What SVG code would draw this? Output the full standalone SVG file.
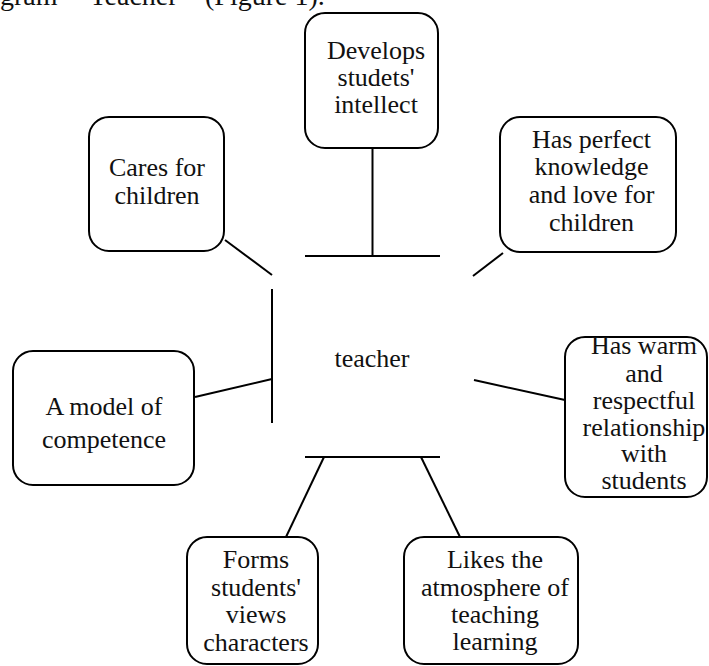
<svg xmlns="http://www.w3.org/2000/svg" width="709" height="666" viewBox="0 0 709 666">
<style>
text{font-family:'Liberation Serif','DejaVu Serif',serif;font-size:26px;fill:#111;text-anchor:middle}
.box{fill:#fff;stroke:#000;stroke-width:2}
.ln{stroke:#000;stroke-width:2;fill:none}
.cap{text-anchor:start;font-size:28px}
</style>
<rect width="709" height="666" fill="#fff"/>
<g font-family="Liberation Serif, serif">
<text class="cap" y="5"><tspan x="0">gram</tspan><tspan x="77">“Teacher”</tspan><tspan x="205">(Figure 1).</tspan></text>
</g>
<g id="connectors">
<line class="ln" x1="305" y1="256" x2="440" y2="256"/>
<line class="ln" x1="372.5" y1="148" x2="372.5" y2="256"/>
<line class="ln" x1="305" y1="457" x2="440" y2="457"/>
<line class="ln" x1="272" y1="289" x2="272" y2="423"/>
<line class="ln" x1="225" y1="240" x2="272" y2="275"/>
<line class="ln" x1="503" y1="253" x2="473" y2="276"/>
<line class="ln" x1="195" y1="397" x2="272" y2="379"/>
<line class="ln" x1="474" y1="380" x2="565" y2="400"/>
<line class="ln" x1="324" y1="457" x2="286" y2="537"/>
<line class="ln" x1="421" y1="457" x2="460" y2="537"/>
</g>
<g id="center" font-family="Liberation Serif, serif"><text x="372" y="367">teacher</text></g>
<g id="develops" font-family="Liberation Serif, serif">
<rect class="box" x="305" y="13" width="133" height="135" rx="20"/>
<text x="376" y="59">Develops</text>
<text x="376" y="86">studets'</text>
<text x="376" y="113">intellect</text>
</g>
<g id="cares" font-family="Liberation Serif, serif">
<rect class="box" x="89" y="117" width="135" height="134" rx="20"/>
<text x="157" y="176">Cares for</text>
<text x="157" y="204">children</text>
</g>
<g id="perfect" font-family="Liberation Serif, serif">
<rect class="box" x="500" y="117" width="176" height="135" rx="20"/>
<text x="591.5" y="148">Has perfect</text>
<text x="591.5" y="175">knowledge</text>
<text x="591.5" y="203">and love for</text>
<text x="591.5" y="231">children</text>
</g>
<g id="model" font-family="Liberation Serif, serif">
<rect class="box" x="13" y="351" width="181" height="134" rx="20"/>
<text x="104" y="415">A model of</text>
<text x="104" y="448">competence</text>
</g>
<g id="warm" font-family="Liberation Serif, serif">
<rect class="box" x="565" y="337" width="142" height="160" rx="20"/>
<text x="644" y="354">Has warm</text>
<text x="644" y="381.5">and</text>
<text x="644" y="409">respectful</text>
<text x="644" y="435.5">relationship</text>
<text x="644" y="462">with</text>
<text x="644" y="489">students</text>
</g>
<g id="forms" font-family="Liberation Serif, serif">
<rect class="box" x="187" y="537" width="131" height="127" rx="20"/>
<text x="256" y="568">Forms</text>
<text x="256" y="596">students'</text>
<text x="256" y="623">views</text>
<text x="256" y="650.5">characters</text>
</g>
<g id="likes" font-family="Liberation Serif, serif">
<rect class="box" x="404" y="537" width="174" height="127" rx="20"/>
<text x="495" y="568">Likes the</text>
<text x="495" y="596">atmosphere of</text>
<text x="495" y="623">teaching</text>
<text x="495" y="650">learning</text>
</g>
</svg>
